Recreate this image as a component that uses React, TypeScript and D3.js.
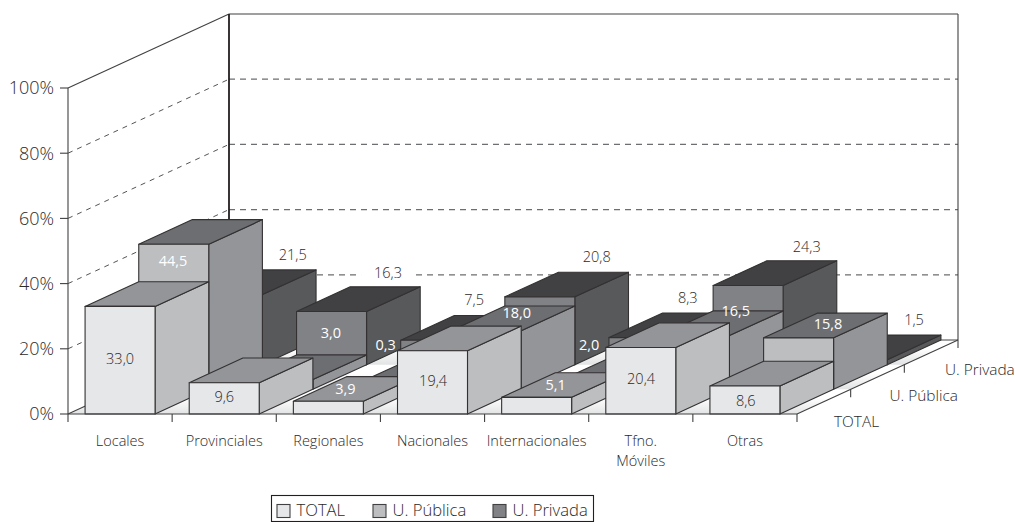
import React from 'react';
import * as d3 from 'd3';

const categories = ['Locales', 'Provinciales', 'Regionales', 'Nacionales', 'Internacionales', 'Tfno. Móviles', 'Otras'];
const seriesNames = ['TOTAL', 'U. Pública', 'U. Privada'];
const total = [33.0, 9.6, 3.9, 19.4, 5.1, 20.4, 8.6];
const publica = [44.5, 3.0, 0.3, 18.0, 2.0, 16.5, 15.8];
const privada = [21.5, 16.3, 7.5, 20.8, 8.3, 24.3, 1.5];
const seriesValues = [total, publica, privada];
const yTicks = [0, 20, 40, 60, 80, 100];

// label offsets from each bar's front-top centre, where the source chart placed them
const labelOffsets = [
  [[0, 52.6], [0, 14.3], [17, -12.3], [0.6, 30.2], [19, -12.4], [0.3, 31.5], [0.8, 15]],
  [[-0.7, 16.7], [53, -46.5], [3.6, -43.4], [30.6, -17.6], [-1.2, -37.8], [41.3, -24.5], [29.4, -13.8]],
  [[65.3, -39.6], [56.5, -38.5], [38.4, -40.2], [56.9, -39.9], [43.8, -39.6], [58.6, -38.4], [61.8, -39.8]],
];
const whiteLabels = [
  [false, false, true, false, true, false, false],
  [true, true, true, true, true, true, true],
  [false, false, false, false, false, false, false],
];
const palette = [
  { front: '#e6e7e8', top: '#939598', side: '#bcbec0' },
  { front: '#bcbec0', top: '#6d6e71', side: '#939598' },
  { front: '#808285', top: '#414042', side: '#58595b' },
];

const INK = '#414042';
const TEXT = '#2b292a';
const FONT = '"Open Sans", sans-serif';
const X0 = 68, X1 = 797, Y0 = 414, Y100 = 88, DX = 161, DY = 74;

const xBand = d3.scaleBand<string>().domain(categories).range([X0, X1]).paddingInner(0.328).paddingOuter(0.164);
const yH = d3.scaleLinear().domain([0, 100]).range([0, Y0 - Y100]);
const depthX = d3.scaleLinear().domain([0, 3]).range([0, DX]);
const depthY = d3.scaleLinear().domain([0, 3]).range([0, DY]);
const poly = (pts: number[][]) => d3.line()(pts as [number, number][]) + 'Z';

export default function App() {
  const bw = xBand.bandwidth();
  const step = xBand.step();
  const dR = depthX(1), eR = depthY(1);
  const rows = [2, 1, 0];
  return (
    <svg width={1015} height={522} style={{ position: 'absolute', left: 0, top: 0, background: '#fff' }} fontFamily={FONT} fontWeight={300}>
      <defs>
        {[0, 1, 2].map((r) => (
          <linearGradient key={r} id={`floor${r}`} gradientUnits="userSpaceOnUse" x1={0} x2={0} y1={Y0 - depthY(r + 1)} y2={Y0 - depthY(r)}>
            <stop offset="0.35" stopColor="#ffffff" />
            <stop offset="1" stopColor="#e2e3e4" />
          </linearGradient>
        ))}
      </defs>

      {/* walls */}
      <path d={poly([[X0, Y0], [X0, Y100], [X0 + DX, Y100 - DY], [X0 + DX, Y0 - DY]])} fill="#fff" />
      {yTicks.slice(1, 5).map((t) => (
        <g key={t}>
          <line x1={X0} x2={X0 + DX} y1={Y0 - yH(t)} y2={Y0 - yH(t) - DY} stroke={INK} strokeWidth={0.9} strokeDasharray="5 5" />
          <line x1={X0 + DX} x2={X1 + DX} y1={Y0 - yH(t) - DY} y2={Y0 - yH(t) - DY} stroke="#6d6e71" strokeWidth={1.2} strokeDasharray="6 5" />
        </g>
      ))}
      <line x1={X0} x2={X0 + DX} y1={Y100} y2={Y100 - DY} stroke={INK} strokeWidth={1.1} />
      <line x1={X0 + DX} x2={X1 + DX} y1={Y100 - DY} y2={Y100 - DY} stroke={INK} strokeWidth={1.1} />
      <line x1={X0 + DX} x2={X0 + DX} y1={Y100 - DY} y2={Y0 - DY} stroke="#231f20" strokeWidth={1.8} />
      <line x1={X1 + DX} x2={X1 + DX} y1={Y100 - DY} y2={Y0 - DY + 8} stroke={INK} strokeWidth={1.1} />
      <line x1={X0} x2={X0} y1={Y100} y2={Y0} stroke={INK} strokeWidth={1.1} />

      {/* floor rows */}
      {[0, 1, 2].map((r) => (
        <path key={r} fill={`url(#floor${r})`}
          d={poly([
            [X0 + depthX(r), Y0 - depthY(r)],
            [X1 + depthX(r), Y0 - depthY(r)],
            [X1 + depthX(r + 1), Y0 - depthY(r + 1)],
            [X0 + depthX(r + 1), Y0 - depthY(r + 1)],
          ])} />
      ))}
      <line x1={X0} x2={X0 + DX} y1={Y0} y2={Y0 - DY} stroke={INK} strokeWidth={1.1} />
      <line x1={X0 + DX} x2={X1 + DX} y1={Y0 - DY} y2={Y0 - DY} stroke={INK} strokeWidth={1} />
      <line x1={X1} x2={X1 + DX} y1={Y0} y2={Y0 - DY} stroke={INK} strokeWidth={1.1} />

      {/* white knock-outs behind the outer labels */}
      {categories.map((c, i) => {
        const o = labelOffsets[2][i];
        const cx = xBand(c)! + bw / 2 + depthX(2);
        const ty = Y0 - depthY(2) - yH(privada[i]);
        return <rect key={c} x={cx + o[0] - 27} y={ty + o[1] - 8} width={54} height={16} fill="#fff" />;
      })}

      {/* bars, back row first */}
      {rows.map((r) =>
        categories.map((c, i) => {
          const v = seriesValues[r][i];
          const x = xBand(c)! + depthX(r);
          const base = Y0 - depthY(r);
          const t = base - yH(v);
          const p = palette[r];
          return (
            <g key={`${r}-${c}`} stroke="#333132" strokeWidth={1.1} strokeLinejoin="round">
              <path fill={p.side} d={poly([[x + bw, base], [x + bw + dR, base - eR], [x + bw + dR, t - eR], [x + bw, t]])} />
              <path fill={p.top} d={poly([[x, t], [x + bw, t], [x + bw + dR, t - eR], [x + dR, t - eR]])} />
              <rect fill={p.front} x={x} y={t} width={bw} height={base - t} />
            </g>
          );
        })
      )}

      {/* value labels */}
      {rows.map((r) =>
        categories.map((c, i) => {
          const v = seriesValues[r][i];
          const o = labelOffsets[r][i];
          const cx = xBand(c)! + bw / 2 + depthX(r);
          const ty = Y0 - depthY(r) - yH(v);
          const white = whiteLabels[r][i];
          return (
            <text key={`l${r}-${c}`} x={cx + o[0]} y={ty + o[1]} dy="0.35em" textAnchor="middle" fontSize={14.5}
              fontWeight={white ? 400 : 300} fill={white ? '#ffffff' : TEXT}>
              {d3.format('.1f')(v).replace('.', ',')}
            </text>
          );
        })
      )}

      {/* axes */}
      <line x1={X0} x2={X1} y1={Y0} y2={Y0} stroke={INK} strokeWidth={1.2} />
      {yTicks.map((t) => (
        <g key={t}>
          <line x1={X0 - 8} x2={X0} y1={Y0 - yH(t)} y2={Y0 - yH(t)} stroke={INK} strokeWidth={1.1} />
          <text x={54} y={Y0 - yH(t)} dy="0.36em" textAnchor="end" fontSize={18} fill={TEXT}>{t}%</text>
        </g>
      ))}
      {d3.range(categories.length + 1).map((i) => {
        const x = X0 + i * step;
        return <line key={i} x1={x} x2={x} y1={Y0} y2={Y0 + 8} stroke={INK} strokeWidth={1.1} />;
      })}
      {[1, 2].map((r) => (
        <line key={r} x1={X1 + depthX(r)} x2={X1 + depthX(r)} y1={Y0 - depthY(r)} y2={Y0 - depthY(r) + 8} stroke={INK} strokeWidth={1.1} />
      ))}
      {categories.map((c, i) => (
        <text key={c} x={X0 + (i + 0.5) * step} y={446} textAnchor="middle" fontSize={14.5} fill={TEXT}>
          {(c.split(' ')).map((w, k) => <tspan key={k} x={X0 + (i + 0.5) * step} dy={k ? 20 : 0}>{w}</tspan>)}
        </text>
      ))}
      {seriesNames.map((s, r) => (
        <text key={s} x={834 + 55.5 * r} y={427 - 26 * r} fontSize={15.4} fill={TEXT}>{s}</text>
      ))}

      {/* legend */}
      <rect x={271.5} y={495.5} width={322} height={26} fill="#fff" stroke="#231f20" strokeWidth={1.1} />
      {seriesNames.map((s, r) => {
        const sx = [277, 373, 493][r];
        return (
          <g key={s}>
            <rect x={sx} y={504.5} width={13} height={13} fill={palette[r].front} stroke={INK} strokeWidth={1.1} />
            <text x={sx + 19.5} y={516} fontSize={16.6} fill={TEXT}>{s}</text>
          </g>
        );
      })}
    </svg>
  );
}
